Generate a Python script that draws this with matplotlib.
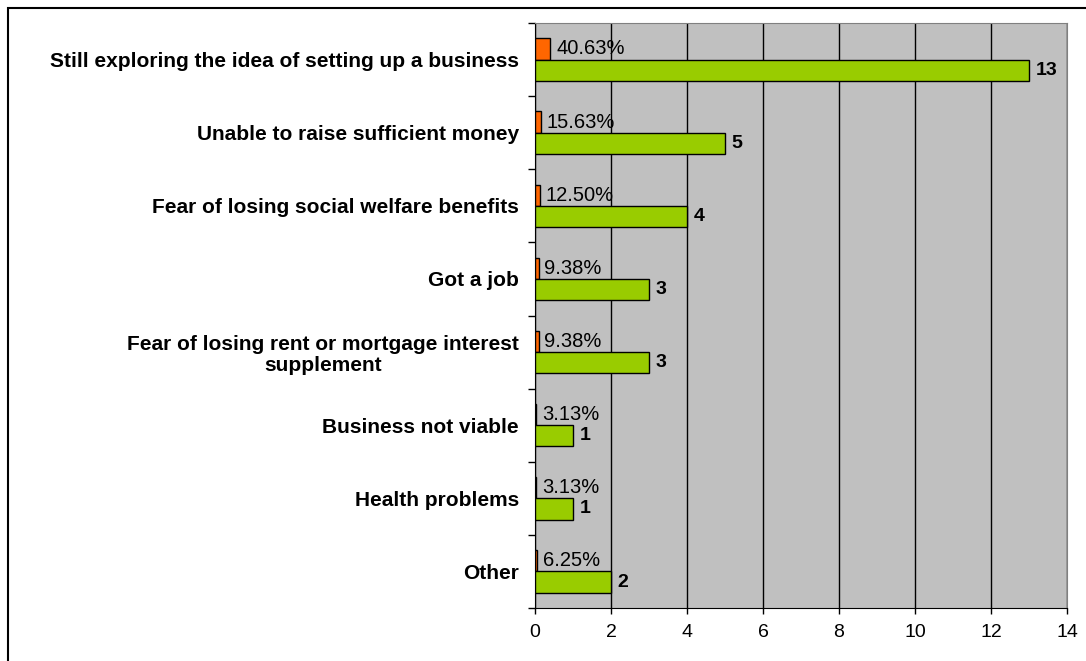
import matplotlib.pyplot as plt
import numpy as np
from matplotlib.patches import Rectangle

##### data #####
categories = [
    "Still exploring the idea of setting up a business",
    "Unable to raise sufficient money",
    "Fear of losing social welfare benefits",
    "Got a job",
    "Fear of losing rent or mortgage interest\nsupplement",
    "Business not viable",
    "Health problems",
    "Other",
]
counts = [13, 5, 4, 3, 3, 1, 1, 2]
shares = [0.4063, 0.1563, 0.1250, 0.0938, 0.0938, 0.0313, 0.0313, 0.0625]
share_labels = ["40.63%", "15.63%", "12.50%", "9.38%", "9.38%", "3.13%", "3.13%", "6.25%"]

plt.rcParams['font.family'] = ['Liberation Sans', 'DejaVu Sans']

fig = plt.figure(figsize=(10.86, 6.61), dpi=100)
ax = fig.add_axes([535/1086, 1 - 608/661, (1067 - 535)/1086, (608 - 23)/661])

# outer frame (runs off the right / bottom edge like the original)
fig.patches.append(Rectangle((8/1086, -0.05), 1.2, 1 - 8/661 + 0.05, transform=fig.transFigure,
                             fill=False, edgecolor='black', linewidth=1.5))

y = np.arange(len(categories)) + 0.5
h = 0.29

ax.set_facecolor('#C0C0C0')
ax.barh(y - h/2, shares, height=h, color='#FF6600', edgecolor='black', linewidth=1.0, zorder=3)
ax.barh(y + h/2, counts, height=h, color='#99CC00', edgecolor='black', linewidth=1.0, zorder=3)

for yi, s, lab in zip(y, shares, share_labels):
    ax.text(s + 0.15, yi - h/2, lab, va='center', ha='left', fontsize=14.5, zorder=4)
for yi, c in zip(y, counts):
    ax.text(c + 0.18, yi + h/2, str(c), va='center', ha='left', fontsize=14,
            fontweight='bold', zorder=4)

ax.set_xlim(0, 14)
ax.set_ylim(len(categories), 0)
ax.set_xticks(range(0, 15, 2))
ax.grid(True, axis='x', color='black', linewidth=1.0, zorder=1)

# category separators as ticks, labels at group centres
ax.set_yticks(np.arange(len(categories) + 1))
ax.set_yticklabels([])
ax.set_yticks(y, minor=True)
ax.set_yticklabels(categories, minor=True, fontweight='bold', fontsize=15,
                   multialignment='center', linespacing=1.15)
ax.tick_params(axis='y', which='minor', length=0, pad=11.5)
ax.tick_params(axis='y', which='major', length=5, direction='out', width=1)
ax.tick_params(axis='x', length=4.5, direction='out', width=1, labelsize=14, pad=7)

for side in ['top', 'right']:
    ax.spines[side].set_color('#808080')
for side in ['left', 'bottom']:
    ax.spines[side].set_color('black')

plt.savefig("out.png", dpi=100)
